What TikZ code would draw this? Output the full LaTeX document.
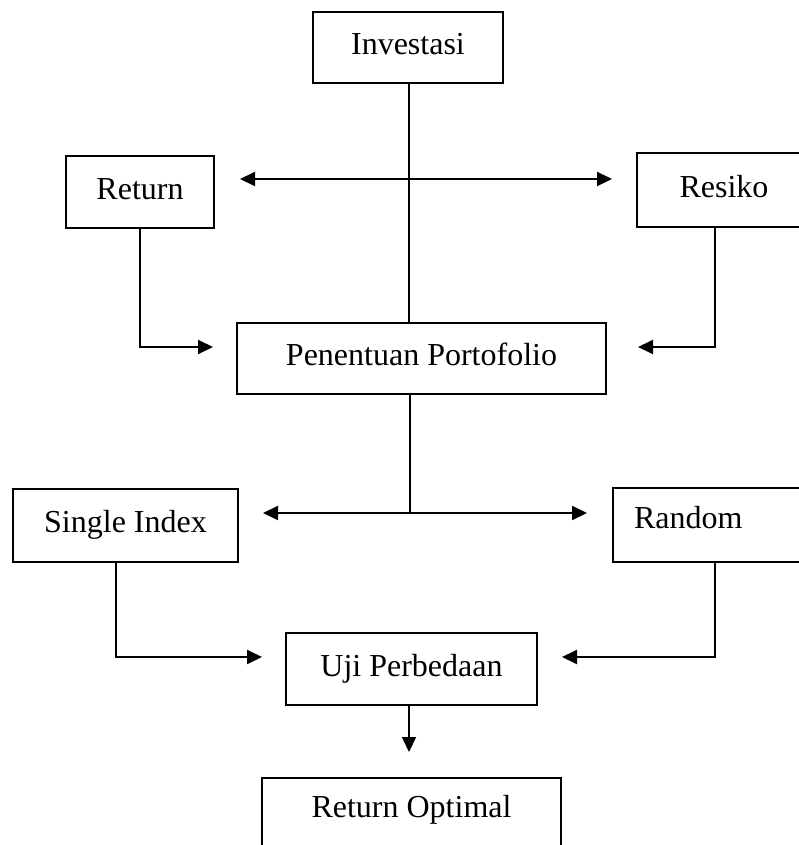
\documentclass[tikz,border=0pt]{standalone}
\usepackage{fontspec}
\setmainfont{Liberation Serif}
\usetikzlibrary{arrows.meta}
\tikzset{
  box/.style={draw=black, line width=2.2pt, rectangle, inner sep=0pt, text height=22pt, text depth=8pt, font=\fontsize{32}{38}\selectfont},
  conn/.style={draw=black, line width=2pt},
  arr/.style={conn, -{Triangle[length=15pt,width=14pt]}},
  dbl/.style={conn, {Triangle[length=15pt,width=14pt]}-{Triangle[length=15pt,width=14pt]}},
}
\begin{document}
\begin{tikzpicture}[x=1pt,y=-1pt]
\useasboundingbox (0,0) rectangle (799,845);
\clip (0,0) rectangle (799,845);
% boxes
\node[box, minimum width=190pt, minimum height=71pt] (investasi) at (408,47.5) {Investasi};
\node[box, minimum width=148pt, minimum height=72pt] (return) at (140,192) {Return};
\node[box, minimum width=174pt, minimum height=74pt] (resiko) at (724,190) {Resiko};
\node[box, minimum width=369pt, minimum height=71pt] (penentuan) at (421.5,358.5) {Penentuan Portofolio};
\node[box, minimum width=225pt, minimum height=73pt] (single) at (125.5,525.5) {Single Index};
\node[box, anchor=west, text width=160pt, inner xsep=21pt, align=left, minimum height=74pt, text depth=15pt] (random) at (612,525) {Random};
\node[box, minimum width=251pt, minimum height=72pt] (uji) at (411.5,669) {Uji Perbedaan};
\node[box, anchor=north, minimum width=299pt, text height=39pt, text depth=60pt] (optimal) at (411.5,777) {Return Optimal};
% junction and tip coordinates
\coordinate (jtop) at (409,179);
\coordinate (h1l) at (240,179);
\coordinate (h1r) at (612,179);
\coordinate (jmid) at (410,513);
\coordinate (h2l) at (263,513);
\coordinate (h2r) at (587,513);
\coordinate (tpl) at (213,347);
\coordinate (tpr) at (638,347);
\coordinate (tul) at (262,657);
\coordinate (tur) at (562,657);
\coordinate (tdown) at (409,752);
% connectors
\draw[conn] (investasi.south -| jtop) -- (penentuan.north -| jtop);
\draw[dbl] (h1l) -- (h1r);
\draw[arr] (return.south) |- (tpl);
\draw[arr] ([xshift=-9pt]resiko.south) |- (tpr);
\draw[conn] (penentuan.south -| jmid) -- (jmid);
\draw[dbl] (h2l) -- (h2r);
\draw[arr] ([xshift=-9.5pt]single.south) |- (tul);
\draw[arr] (random.south -| 715,0) |- (tur);
\draw[arr] (uji.south -| tdown) -- (tdown);
\end{tikzpicture}
\end{document}
